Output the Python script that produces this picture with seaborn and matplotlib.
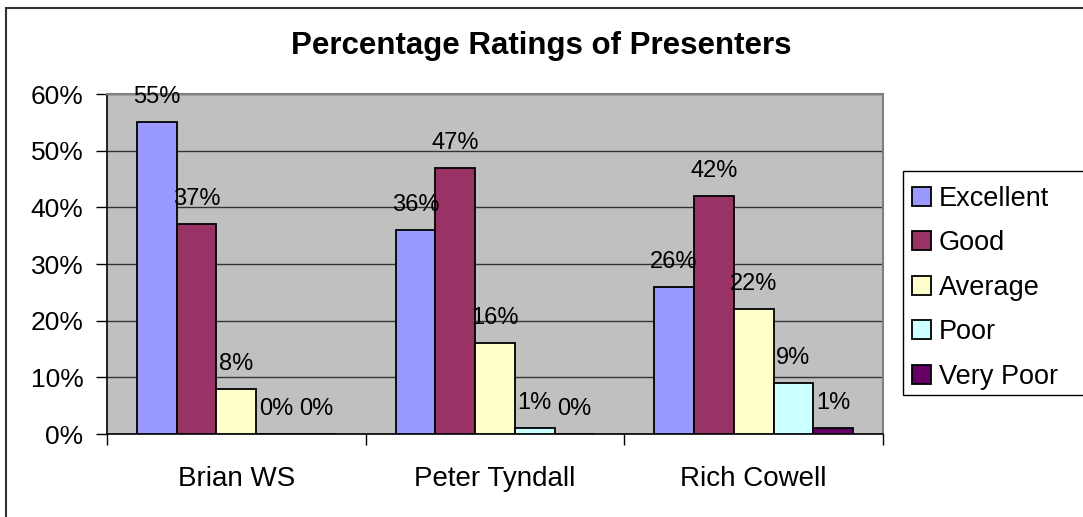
import pandas as pd
import numpy as np
import matplotlib
matplotlib.use("Agg")
import matplotlib.pyplot as plt
from matplotlib.patches import Rectangle
from matplotlib.ticker import MultipleLocator, FuncFormatter
import seaborn as sns

# chart data
presenters = ["Brian WS", "Peter Tyndall", "Rich Cowell"]
ratings = ["Excellent", "Good", "Average", "Poor", "Very Poor"]
excellent = [55, 36, 26]
good = [37, 47, 42]
average = [8, 16, 22]
poor = [0, 1, 9]
very_poor = [0, 0, 1]
colors = ["#9999FF", "#993366", "#FFFFCC", "#CCFFFF", "#660066"]

rows = []
for rating, vals in zip(ratings, [excellent, good, average, poor, very_poor]):
    for p, v in zip(presenters, vals):
        rows.append({"Presenter": p, "Rating": rating, "Pct": v})
df = pd.DataFrame(rows)

sns.set_style("white")
plt.rcParams["font.family"] = ["Liberation Sans", "DejaVu Sans"]
plt.rcParams["text.color"] = "black"
plt.rcParams["xtick.color"] = "black"
plt.rcParams["ytick.color"] = "black"

W, H = 1083, 517
fig = plt.figure(figsize=(W / 100, H / 100), dpi=100)
ax = fig.add_axes([107 / W, 1 - 434 / H, (883 - 107) / W, (434 - 94) / H])

sns.barplot(data=df, x="Presenter", y="Pct", hue="Rating", hue_order=ratings,
            palette=colors, width=5 / 6.5, gap=0, edgecolor="black",
            linewidth=1.3, saturation=1, ax=ax, zorder=3)

for cont in ax.containers:
    ax.bar_label(cont, labels=[f"{v:.0f}%" for v in cont.datavalues],
                 padding=10, fontsize=17, color="black")

ax.set_facecolor("#C0C0C0")
ax.set_ylim(0, 60)
ax.set_xlim(-0.5, 2.5)
ax.yaxis.set_major_locator(MultipleLocator(10))
ax.yaxis.set_major_formatter(FuncFormatter(lambda v, _: f"{v:.0f}%"))
ax.grid(axis="y", color="#333333", linewidth=1, zorder=0)
ax.set_axisbelow(True)
ax.set_xlabel("")
ax.set_ylabel("")
ax.tick_params(axis="y", labelsize=19, length=8, width=1, color="black",
               direction="out", left=True, pad=9)
ax.tick_params(axis="x", which="major", labelsize=20, length=0, pad=23)
ax.set_xticks([-0.5, 0.5, 1.5, 2.5], minor=True)
ax.tick_params(axis="x", which="minor", length=8, width=1, color="black", direction="out", bottom=True)

for side in ["top", "right"]:
    ax.spines[side].set_color("#808080")
    ax.spines[side].set_linewidth(1.5)
for side in ["left", "bottom"]:
    ax.spines[side].set_color("black")
    ax.spines[side].set_linewidth(1.2)

# legend: entries without frame, box drawn separately so it runs off the right edge
handles, labels = ax.get_legend_handles_labels()
ax.legend(handles, labels, loc="upper left", bbox_to_anchor=(897 / W, 1 - 171 / H),
          bbox_transform=fig.transFigure, fontsize=19.5, frameon=False,
          handlelength=0.7, handleheight=0.7, handletextpad=0.3,
          labelspacing=0.68, borderpad=0.55, borderaxespad=0)
fig.patches.append(Rectangle((903 / W, 1 - 395 / H), 200 / W, (395 - 171) / H,
                             transform=fig.transFigure, fill=False,
                             edgecolor="black", linewidth=1))

fig.text(541 / W, 1 - 46 / H, "Percentage Ratings of Presenters",
         ha="center", va="center", fontsize=22.5, fontweight="bold", color="black")

fig.patches.append(Rectangle((6 / W, -0.1), 1.2, 1 - 8 / H + 0.1,
                             transform=fig.transFigure, fill=False,
                             edgecolor="#333333", linewidth=1.5))

fig.savefig("out.png", dpi=100)
